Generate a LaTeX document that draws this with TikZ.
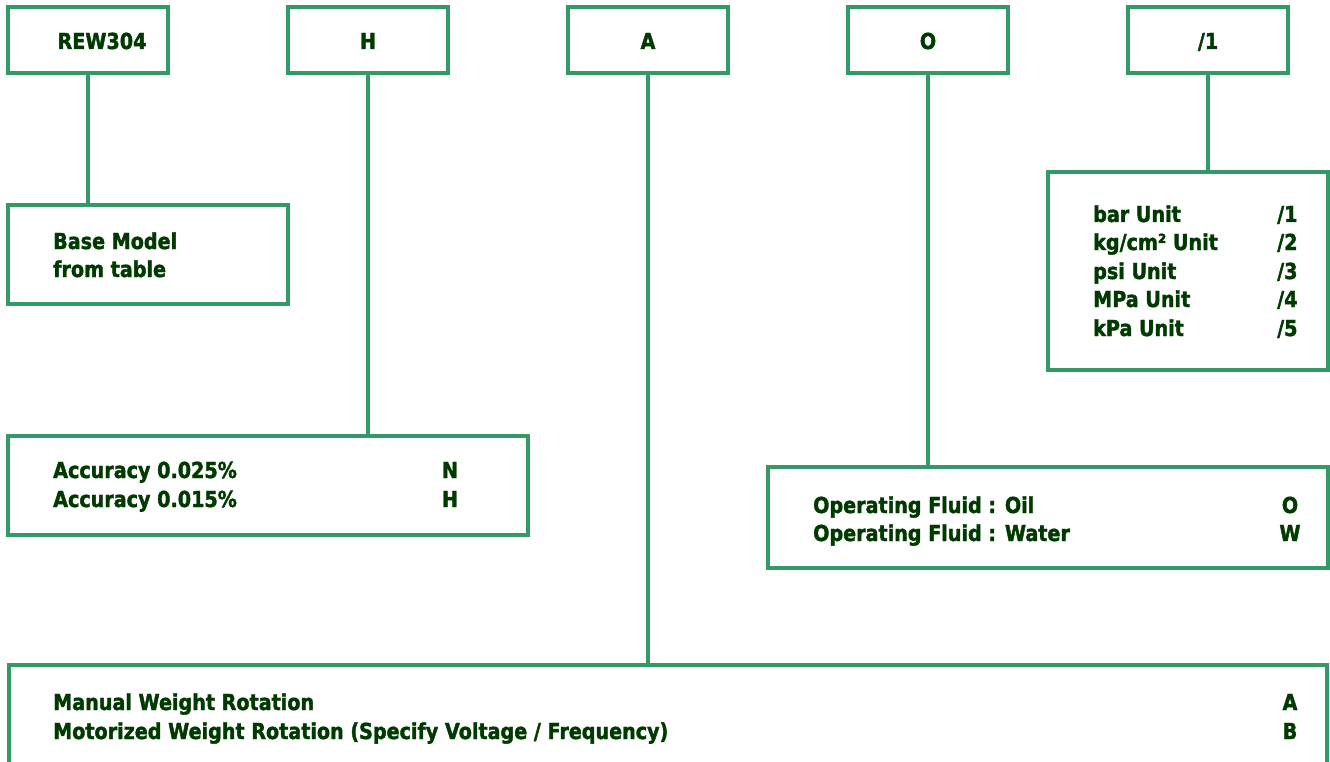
\documentclass[tikz,border=0pt]{standalone}
\usepackage{fontspec}
\setmainfont{DejaVu Sans}
\newfontfamily\lblfont{DejaVu Sans Bold}[FakeStretch=0.87,FakeBold=1.8]
\definecolor{lc}{HTML}{339966}
\definecolor{tc}{HTML}{003A00}
\begin{document}
\begin{tikzpicture}[x=1pt,y=-1pt,
  box/.style={draw=lc,line width=3.4pt,rectangle,inner sep=0pt},
  conn/.style={draw=lc,line width=3.4pt},
  lbl/.style={text=tc,font=\fontsize{22}{28}\lblfont,inner sep=0pt,anchor=base west},
  code/.style={lbl,anchor=base}]
\useasboundingbox (0,0) rectangle (1330,762);
% top boxes
\node[box,minimum width=160pt,minimum height=66pt] (rew) at (88,40) {};
\node[box,minimum width=160pt,minimum height=66pt] (hb) at (368,40) {};
\node[box,minimum width=160pt,minimum height=66pt] (ab) at (648,40) {};
\node[box,minimum width=160pt,minimum height=66pt] (ob) at (928,40) {};
\node[box,minimum width=160pt,minimum height=66pt] (ub) at (1208,40) {};
\node[code] (trew) at (102,49) {REW304};
\node[code] (th) at (368,49) {H};
\node[code] (ta) at (648,49) {A};
\node[code] (to) at (928,49) {O};
\node[code] (tu) at (1208,49) {/1};
% option boxes
\node[box,minimum width=280pt,minimum height=99pt] (base) at (148,254.5) {};
\node[box,minimum width=520pt,minimum height=99pt] (acc) at (268,485.5) {};
\node[box,minimum width=280pt,minimum height=198pt] (unit) at (1188,271) {};
\node[box,minimum width=560pt,minimum height=101pt] (fluid) at (1048,517.5) {};
\coordinate (mtl) at (9,764);
\coordinate (mtop) at (648,665);
\coordinate (mtr) at (1327,764);
\draw[conn] (mtl) -- (9,665) -- (1327,665) -- (mtr);
% connectors
\draw[conn] (rew.south) -- (rew.south |- base.north);
\draw[conn] (hb.south) -- (hb.south |- acc.north);
\draw[conn] (ab.south) -- (mtop);
\draw[conn] (ob.south) -- (ob.south |- fluid.north);
\draw[conn] (ub.south) -- (ub.south |- unit.north);
% texts
\node[lbl] (b1) at (53,249) {Base Model};
\node[lbl] (b2) at (53,277) {from table};
\node[lbl] (a1) at (53,478) {Accuracy 0.025\%};
\node[lbl] (a2) at (53,507) {Accuracy 0.015\%};
\node[code] (an) at (450,478) {N};
\node[code] (ah) at (450,507) {H};
\node[lbl] (u1) at (1093,222) {bar Unit};
\node[lbl] (u2) at (1093,250) {kg/cm² Unit};
\node[lbl] (u3) at (1093,279) {psi Unit};
\node[lbl] (u4) at (1093,307) {MPa Unit};
\node[lbl] (u5) at (1093,336) {kPa Unit};
\node[lbl] (c1) at (1277,222) {/1};
\node[lbl] (c2) at (1277,250) {/2};
\node[lbl] (c3) at (1277,279) {/3};
\node[lbl] (c4) at (1277,307) {/4};
\node[lbl] (c5) at (1277,336) {/5};
\node[lbl] (f1) at (813,513) {Operating Fluid : Oil};
\node[lbl] (f2) at (813,541) {Operating Fluid : Water};
\node[code] (fo) at (1290,513) {O};
\node[code] (fw) at (1290,541) {W};
\node[lbl] (m1) at (53,710) {Manual Weight Rotation};
\node[lbl] (m2) at (53,739) {Motorized Weight Rotation (Specify Voltage / Frequency)};
\node[code] (ma) at (1290,710) {A};
\node[code] (mb) at (1290,739) {B};
\end{tikzpicture}
\end{document}
